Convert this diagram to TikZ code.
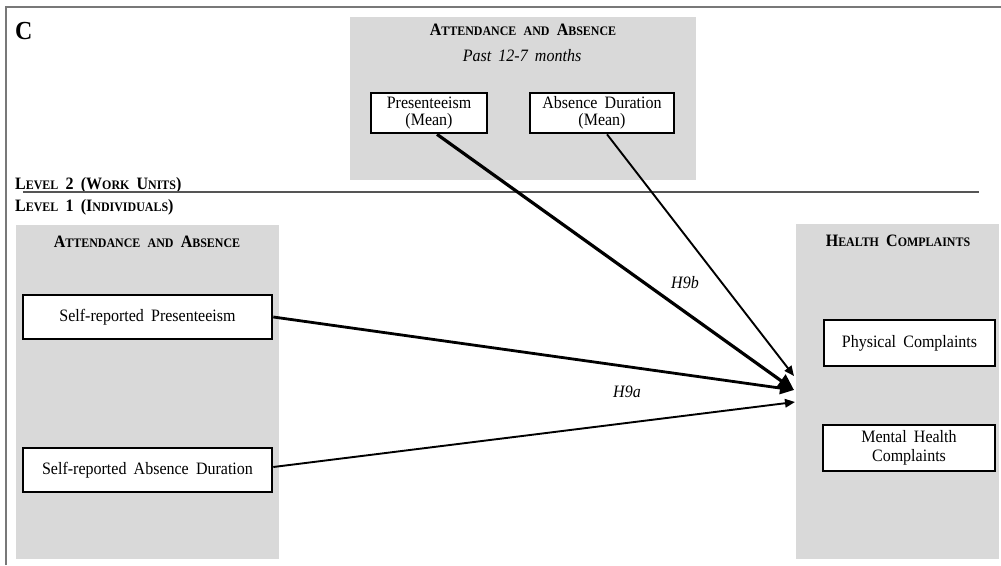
\documentclass[tikz,border=0pt]{standalone}
\usepackage{fontspec}
\setmainfont{Liberation Serif}[WordSpace=1.8, FakeStretch=0.92]
\usetikzlibrary{arrows.meta,calc}
\newcommand\sk[1]{{\fontsize{13}{15}\selectfont #1}}
\definecolor{boxgray}{RGB}{217,217,217}
\definecolor{framegray}{RGB}{120,120,120}
\definecolor{levelgray}{RGB}{85,85,85}
\begin{document}
\begin{tikzpicture}[x=1pt,y=-1pt,
  panel/.style={fill=boxgray, draw=none, inner sep=0pt},
  varbox/.style={draw=black, line width=2.6pt, fill=white, inner sep=0pt, align=center,
    font=\fontsize{17.4}{17}\selectfont},
  title/.style={font=\bfseries\fontsize{17.4}{19}\selectfont, inner sep=0pt},
  hyp/.style={font=\itshape\fontsize{17.4}{19}\selectfont, inner sep=0pt},
  frameline/.style={draw=framegray, line width=1.5pt},
  levelline/.style={draw=levelgray, line width=1.6pt},
  thickarrow/.style={line width=3.2pt, -{Triangle[length=16pt,width=15pt]}},
  midarrow/.style={line width=2.8pt, -{Triangle[length=14pt,width=12pt]}},
  thinarrow/.style={line width=1.9pt, -{Triangle[length=10pt,width=8.5pt]}}]
\useasboundingbox (0,0) rectangle (1001,565);
\fill[white] (0,0) rectangle (1001,565);

% frame
\draw[frameline] (6,565) -- (6,7) -- (1001,7);
\node[font=\bfseries\fontsize{26}{28}\selectfont, inner sep=0pt, anchor=base west] (panelC) at (15,39) {C};

% panels
\node[panel, minimum width=346pt, minimum height=163pt] (toppanel) at (523,98.5) {};
\node[panel, minimum width=263pt, minimum height=334pt] (leftpanel) at (147.5,392) {};
\node[panel, minimum width=203pt, minimum height=335pt] (rightpanel) at (897.5,391.5) {};

% titles
\node[title, anchor=base] (ttop) at (523,35) {A\sk{TTENDANCE} \sk{AND} A\sk{BSENCE}};
\node[hyp, anchor=base] (tperiod) at (522,61) {Past 12-7 months};
\node[title, anchor=base] (tleft) at (147,247) {A\sk{TTENDANCE} \sk{AND} A\sk{BSENCE}};
\node[title, anchor=base] (tright) at (898,246) {H\sk{EALTH} C\sk{OMPLAINTS}};

% levels
\node[title, anchor=base west] (lv2) at (15,189) {L\sk{EVEL} 2 (W\sk{ORK} U\sk{NITS})};
\node[title, anchor=base west] (lv1) at (15,211) {L\sk{EVEL} 1 (I\sk{NDIVIDUALS})};
\draw[levelline] (23,192) -- (979,192);

% variable boxes
\node[varbox, minimum width=116pt, minimum height=40pt] (pm) at (429,113) {Presenteeism\\(Mean)};
\node[varbox, minimum width=144pt, minimum height=40pt] (ad) at (602,113) {Absence Duration\\(Mean)};
\node[varbox, minimum width=249pt, minimum height=44pt] (sp) at (147.5,317) {Self-reported Presenteeism};
\node[varbox, minimum width=249pt, minimum height=44pt] (sa) at (147.5,470) {Self-reported Absence Duration};
\node[varbox, minimum width=171pt, minimum height=46pt] (pc) at (909.5,343) {Physical Complaints};
\node[varbox, minimum width=172pt, minimum height=46pt, font=\fontsize{17.4}{19}\selectfont] (mh) at (909,448) {Mental Health\\Complaints};

% arrows
\coordinate (tipA) at (794,390);
\coordinate (tipB) at (794,376);
\coordinate (tipC) at (795,402);
\draw[midarrow] (sp.east) -- (tipA);
\draw[thickarrow] ($(pm.south)+(8,0)$) -- (tipA);
\draw[thinarrow] ($(ad.south)+(5,0)$) -- (tipB);
\draw[thinarrow] ($(sa.east)+(0,-3)$) -- (tipC);

% hypotheses
\node[hyp] (h9b) at (685,283) {H9b};
\node[hyp] (h9a) at (627,392) {H9a};
\end{tikzpicture}
\end{document}
